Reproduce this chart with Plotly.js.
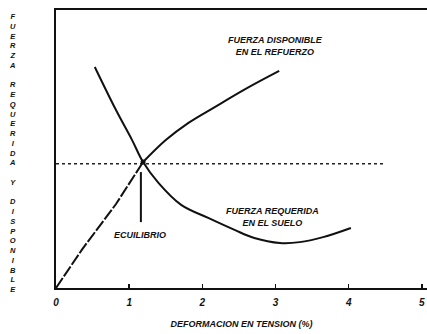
<!DOCTYPE html>
<html>
<head>
<meta charset="utf-8">
<script src="https://cdn.plot.ly/plotly-3.0.1.min.js"></script>
<style>html,body{margin:0;padding:0;background:#fff;}#chart{width:427px;height:334px;}</style>
</head>
<body>
<div id="chart"></div>
<script>
// Fuerza disponible en el refuerzo
var availX = [0, 0.36, 0.82, 1.19, 1.50, 1.81, 2.17, 2.61, 3.05];
var availY = [0, 1.40, 3.02, 4.53, 5.32, 5.94, 6.51, 7.19, 7.81];
// Fuerza requerida en el suelo
var reqX = [0.53, 0.82, 1.04, 1.19, 1.40, 1.71, 2.08, 2.44, 2.71, 3.06, 3.33, 3.65, 4.03];
var reqY = [7.95, 6.40, 5.32, 4.53, 3.78, 2.99, 2.52, 2.09, 1.80, 1.62, 1.65, 1.83, 2.16];
// Equilibrium level (dotted) and pointer
var eqLevelX = [0, 4.5];
var eqLevelY = [4.47, 4.47];
var eqPointerX = [1.16, 1.16];
var eqPointerY = [4.17, 2.37];
var xTicks = [0, 1, 2, 3, 4, 5];
var xTickText = ['0', '1', '2', '3', '4', '5'];
var yTitle = 'FUERZA REQUERIDA Y DISPONIBLE';
var xTitle = 'DEFORMACION EN TENSION (%)';
var eqIndex = 3;

var fnt = {family: 'Liberation Sans, Arial, sans-serif', color: '#111', weight: 'bold', style: 'italic'};
function f(size){ return Object.assign({}, fnt, {size: size}); }

var traces = [
  {x: availX.slice(0, eqIndex + 1), y: availY.slice(0, eqIndex + 1), mode: 'lines',
   line: {color: '#111', width: 2, dash: '12px,2px'}, hoverinfo: 'skip'},
  {x: availX.slice(eqIndex), y: availY.slice(eqIndex), mode: 'lines',
   line: {color: '#111', width: 2, shape: 'spline'}, hoverinfo: 'skip'},
  {x: reqX, y: reqY, mode: 'lines', line: {color: '#111', width: 2, shape: 'spline'}, hoverinfo: 'skip'},
  {x: eqLevelX, y: eqLevelY, mode: 'lines', line: {color: '#222', width: 1.5, dash: 'dot'}, hoverinfo: 'skip'},
  {x: eqPointerX, y: eqPointerY, mode: 'lines', line: {color: '#111', width: 2}, hoverinfo: 'skip'},
  {x: [availX[eqIndex]], y: [availY[eqIndex]], mode: 'markers', marker: {color: '#111', size: 5}, hoverinfo: 'skip'}
];

var layout = {
  width: 427, height: 334,
  margin: {l: 56, r: 0, t: 10, b: 46},
  paper_bgcolor: '#fff', plot_bgcolor: '#fff',
  showlegend: false,
  xaxis: {
    range: [0, 5.07], tickvals: xTicks, ticktext: xTickText,
    showgrid: false, zeroline: false,
    showline: true, mirror: true, linecolor: '#111', linewidth: 2,
    ticks: 'inside', ticklen: 4, tickwidth: 1.5, tickcolor: '#111',
    tickfont: f(10), ticklabelstandoff: 4, ticklabeloverflow: 'allow',
    title: {text: xTitle, font: f(9), standoff: 14}
  },
  yaxis: {
    range: [0, 10], showgrid: false, zeroline: false,
    showline: true, linecolor: '#111', linewidth: 2,
    showticklabels: false, ticks: ''
  },
  annotations: [
    {xref: 'paper', yref: 'paper', x: -0.116, y: 1.0, xanchor: 'center', yanchor: 'top',
     text: yTitle.split('').map(function(c){ return c === ' ' ? '&nbsp;' : c; }).join('<br>'),
     showarrow: false, font: f(7.5)},
    {xref: 'x', yref: 'y', x: 3.0, y: 8.7, text: 'FUERZA DISPONIBLE<br>EN EL REFUERZO',
     showarrow: false, font: f(9)},
    {xref: 'x', yref: 'y', x: 2.96, y: 2.55, text: 'FUERZA REQUERIDA<br>EN EL SUELO',
     showarrow: false, font: f(9)},
    {xref: 'x', yref: 'y', x: 1.15, y: 1.9, text: 'ECUILIBRIO',
     showarrow: false, font: f(9)}
  ]
};

Plotly.newPlot('chart', traces, layout, {staticPlot: true, displayModeBar: false});
</script>
</body>
</html>
